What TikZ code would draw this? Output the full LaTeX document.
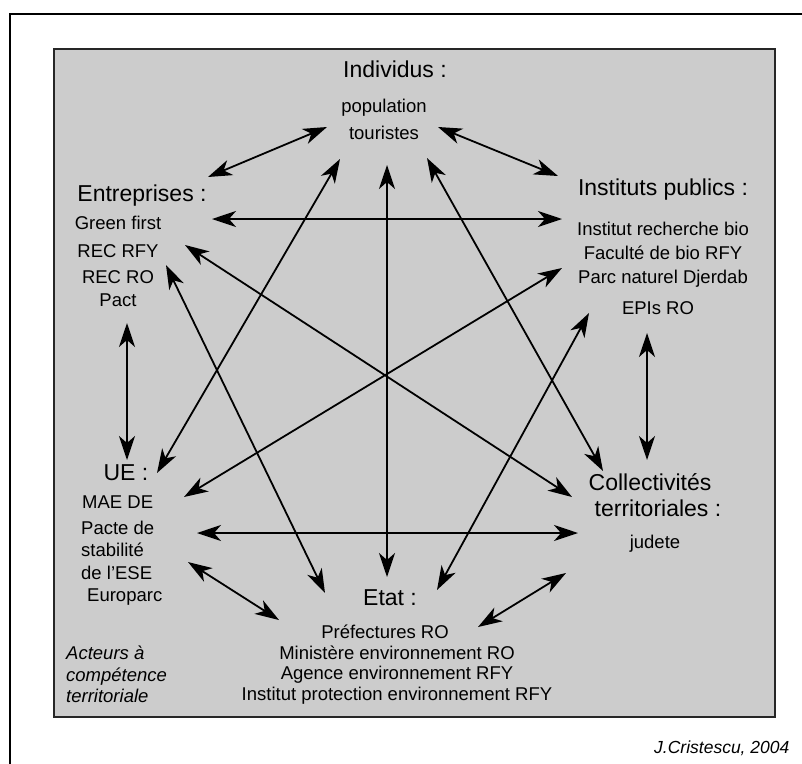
\documentclass[tikz,border=0pt]{standalone}
\usepackage{fontspec}
\setmainfont{Liberation Sans}
\usetikzlibrary{arrows.meta}

\begin{document}
\begin{tikzpicture}[x=1pt, y=-1pt,
    title/.style={font=\fontsize{23}{27}\selectfont, inner sep=0pt, text height=0.72em, text depth=0.2em},
    item/.style={font=\fontsize{18.5}{21}\selectfont, inner sep=0pt, text height=0.72em, text depth=0.2em},
    note/.style={item, font=\fontsize{18.5}{21}\selectfont\itshape, anchor=west},
    link/.style={{Stealth[length=24pt, width=16pt, inset=7pt]}-{Stealth[length=24pt, width=16pt, inset=7pt]}, line width=1.8pt}
]
    \useasboundingbox (0,0) rectangle (802,763);

    % Frames
    \draw[line width=1.8pt] (10,775) -- (10,14) -- (815,14);
    \draw[line width=1.5pt, draw=black!85, fill=black!20] (54,49) rectangle (775,717);

    % Individus
    \node[title] (ind) at (395,75) {Individus :};
    \node[item] (ind1) at (384,110) {population};
    \node[item] (ind2) at (384,137) {touristes};

    % Entreprises
    \node[title] (ent) at (142,199) {Entreprises :};
    \node[item] (ent1) at (118,227) {Green first};
    \node[item] (ent2) at (118,255) {REC RFY};
    \node[item] (ent3) at (118,281) {REC RO};
    \node[item] (ent4) at (118,304) {Pact};

    % Instituts publics
    \node[title] (inst) at (663,193) {Instituts publics :};
    \node[item] (inst1) at (663,233) {Institut recherche bio};
    \node[item] (inst2) at (663,257) {Faculté de bio RFY};
    \node[item] (inst3) at (663,281) {Parc naturel Djerdab};
    \node[item] (inst4) at (658,312) {EPIs RO};

    % UE
    \node[title] (ue) at (126,478) {UE :};
    \node[item, anchor=west] (ue1) at (82,506) {MAE DE};
    \node[item, anchor=west] (ue2) at (81,532) {Pacte de};
    \node[item, anchor=west] (ue3) at (81,554) {stabilité};
    \node[item, anchor=west] (ue4) at (81,577) {de l'ESE};
    \node[item, anchor=west] (ue5) at (87,599) {Europarc};

    % Collectivites territoriales
    \node[title] (coll) at (650,488) {Collectivités};
    \node[title] (coll1) at (658,514) {territoriales :};
    \node[item] (coll2) at (655,546) {judete};

    % Etat
    \node[title] (etat) at (390,603) {Etat :};
    \node[item] (etat1) at (385,636) {Préfectures RO};
    \node[item] (etat2) at (397,657) {Ministère environnement RO};
    \node[item] (etat3) at (397,677) {Agence environnement RFY};
    \node[item] (etat4) at (397,698) {Institut protection environnement RFY};

    % Legend and source
    \node[note] (note1) at (66,657) {Acteurs à};
    \node[note] (note2) at (66,679) {compétence};
    \node[note] (note3) at (66,700) {territoriale};
    \node[font=\fontsize{17.5}{20}\selectfont\itshape, inner sep=0pt, anchor=west] (src) at (654,748) {J.Cristescu, 2004};

    % Arrow ends
    \coordinate (ind-ent) at (327,127);
    \coordinate (ind-inst) at (438,127);
    \coordinate (ind-ue) at (340,159);
    \coordinate (ind-etat) at (387,165);
    \coordinate (ind-coll) at (427,158);

    \coordinate (ent-ind) at (208,177);
    \coordinate (ent-inst) at (212,219);
    \coordinate (ent-coll) at (185,245);
    \coordinate (ent-etat) at (166,265);
    \coordinate (ent-ue) at (127,323);

    \coordinate (inst-ind) at (558,176);
    \coordinate (inst-ent) at (562,219);
    \coordinate (inst-ue) at (562,268);
    \coordinate (inst-etat) at (589,313);
    \coordinate (inst-coll) at (647,333);

    \coordinate (ue-ent) at (127,460);
    \coordinate (ue-ind) at (157,473);
    \coordinate (ue-inst) at (184,497);
    \coordinate (ue-coll) at (197,533);
    \coordinate (ue-etat) at (188,562);

    \coordinate (coll-inst) at (647,460);
    \coordinate (coll-ind) at (603,471);
    \coordinate (coll-ent) at (572,497);
    \coordinate (coll-ue) at (578,533);
    \coordinate (coll-etat) at (566,573);

    \coordinate (etat-ue) at (279,620);
    \coordinate (etat-ent) at (325,593);
    \coordinate (etat-ind) at (387,577);
    \coordinate (etat-inst) at (437,590);
    \coordinate (etat-coll) at (478,627);

    % Connections
    \draw[link] (ind-ent) -- (ent-ind);
    \draw[link] (ind-inst) -- (inst-ind);
    \draw[link] (ind-ue) -- (ue-ind);
    \draw[link] (ind-etat) -- (etat-ind);
    \draw[link] (ind-coll) -- (coll-ind);

    \draw[link] (ent-inst) -- (inst-ent);
    \draw[link] (ent-coll) -- (coll-ent);
    \draw[link] (ent-etat) -- (etat-ent);
    \draw[link] (ent-ue) -- (ue-ent);

    \draw[link] (inst-ue) -- (ue-inst);
    \draw[link] (inst-etat) -- (etat-inst);
    \draw[link] (inst-coll) -- (coll-inst);

    \draw[link] (ue-coll) -- (coll-ue);
    \draw[link] (ue-etat) -- (etat-ue);

    \draw[link] (etat-coll) -- (coll-etat);
\end{tikzpicture}
\end{document}
